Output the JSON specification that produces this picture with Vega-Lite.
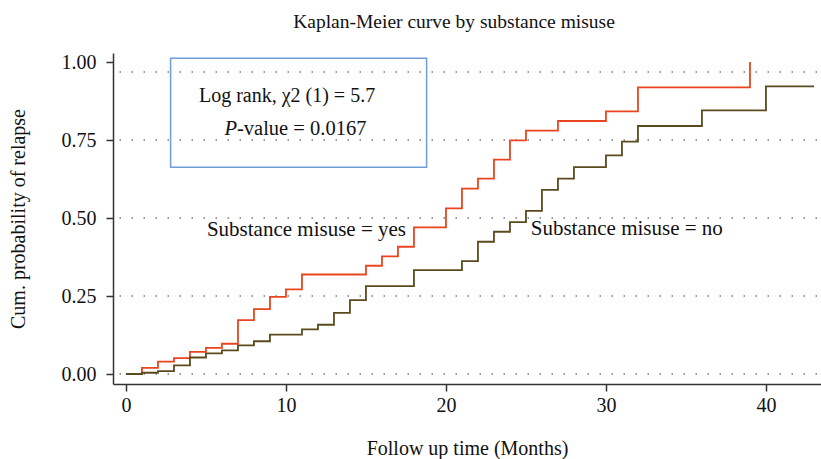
{
  "$schema": "https://vega.github.io/schema/vega-lite/v6.json",
  "width": 708,
  "height": 331,
  "autosize": {"type": "none"},
  "padding": {"left": 113, "top": 53, "right": 0, "bottom": 75},
  "background": "white",
  "data": {"values": [{"a": 1}]},
  "config": {
    "font": "Liberation Serif",
    "view": {"stroke": null},
    "axis": {
      "grid": false,
      "domainColor": "#333333",
      "domainWidth": 1.5,
      "tickColor": "#333333",
      "tickWidth": 1.5,
      "tickSize": 7,
      "labelPadding": 5,
      "labelFontSize": 20,
      "labelColor": "#111111",
      "labelFont": "Liberation Serif",
      "titleFont": "Liberation Serif",
      "titleFontSize": 20,
      "titleFontWeight": "normal",
      "titleColor": "#111111"
    }
  },
  "title": {
    "text": "Kaplan-Meier curve by substance misuse",
    "font": "Liberation Serif",
    "fontSize": 19.5,
    "fontWeight": "normal",
    "color": "#111111",
    "anchor": "middle",
    "frame": "group",
    "offset": 20,
    "dx": -13
  },
  "datasets": {
    "km": [
      {"group": "yes", "t": 0, "p": 0},
      {"group": "yes", "t": 1, "p": 0.02},
      {"group": "yes", "t": 2, "p": 0.04},
      {"group": "yes", "t": 3, "p": 0.051},
      {"group": "yes", "t": 4, "p": 0.071},
      {"group": "yes", "t": 5, "p": 0.084},
      {"group": "yes", "t": 6, "p": 0.097},
      {"group": "yes", "t": 7, "p": 0.173},
      {"group": "yes", "t": 8, "p": 0.208},
      {"group": "yes", "t": 9, "p": 0.247},
      {"group": "yes", "t": 10, "p": 0.271},
      {"group": "yes", "t": 11, "p": 0.319},
      {"group": "yes", "t": 15, "p": 0.347},
      {"group": "yes", "t": 16, "p": 0.377},
      {"group": "yes", "t": 17, "p": 0.408},
      {"group": "yes", "t": 18, "p": 0.47},
      {"group": "yes", "t": 20, "p": 0.531},
      {"group": "yes", "t": 21, "p": 0.594},
      {"group": "yes", "t": 22, "p": 0.626},
      {"group": "yes", "t": 23, "p": 0.687},
      {"group": "yes", "t": 24, "p": 0.749},
      {"group": "yes", "t": 25, "p": 0.78},
      {"group": "yes", "t": 27, "p": 0.811},
      {"group": "yes", "t": 30, "p": 0.842},
      {"group": "yes", "t": 32, "p": 0.919},
      {"group": "yes", "t": 39, "p": 1.0},
      {"group": "no", "t": 0, "p": 0},
      {"group": "no", "t": 1, "p": 0.004},
      {"group": "no", "t": 2, "p": 0.009},
      {"group": "no", "t": 3, "p": 0.028},
      {"group": "no", "t": 4, "p": 0.053},
      {"group": "no", "t": 5, "p": 0.066},
      {"group": "no", "t": 6, "p": 0.076},
      {"group": "no", "t": 7, "p": 0.092},
      {"group": "no", "t": 8, "p": 0.105},
      {"group": "no", "t": 9, "p": 0.126},
      {"group": "no", "t": 11, "p": 0.143},
      {"group": "no", "t": 12, "p": 0.158},
      {"group": "no", "t": 13, "p": 0.196},
      {"group": "no", "t": 14, "p": 0.237},
      {"group": "no", "t": 15, "p": 0.282},
      {"group": "no", "t": 18, "p": 0.333},
      {"group": "no", "t": 21, "p": 0.362},
      {"group": "no", "t": 22, "p": 0.424},
      {"group": "no", "t": 23, "p": 0.456},
      {"group": "no", "t": 24, "p": 0.487},
      {"group": "no", "t": 25, "p": 0.523},
      {"group": "no", "t": 26, "p": 0.59},
      {"group": "no", "t": 27, "p": 0.626},
      {"group": "no", "t": 28, "p": 0.663},
      {"group": "no", "t": 30, "p": 0.701},
      {"group": "no", "t": 31, "p": 0.745},
      {"group": "no", "t": 32, "p": 0.795},
      {"group": "no", "t": 36, "p": 0.845},
      {"group": "no", "t": 40, "p": 0.922},
      {"group": "no", "t": 43, "p": 0.922}
    ],
    "grid": [
      {"g": 0},
      {"g": 0.25},
      {"g": 0.5},
      {"g": 0.75},
      {"g": 0.968}
    ]
  },
  "layer": [
    {
      "data": {"name": "grid"},
      "mark": {"type": "rule", "color": "#777777", "strokeWidth": 1.5, "strokeDash": [1.5, 10.5], "strokeDashOffset": -4},
      "encoding": {
        "y": {
          "field": "g", "type": "quantitative",
          "scale": {"domain": [-0.032, 1.029], "nice": false, "zero": false},
          "axis": {"values": [0, 0.25, 0.5, 0.75, 1], "format": ".2f", "title": "Cum. probability of relapse", "titlePadding": 33, "labelPadding": 10}
        }
      }
    },
    {
      "mark": {"type": "rect", "fill": "white", "fillOpacity": 0, "stroke": "#6f9ed8", "strokeWidth": 1.5},
      "encoding": {
        "x": {"datum": 2.79, "type": "quantitative"},
        "x2": {"datum": 18.79},
        "y": {"datum": 1.012, "type": "quantitative"},
        "y2": {"datum": 0.663}
      }
    },
    {
      "data": {"name": "km"},
      "mark": {"type": "line", "interpolate": "step-after", "strokeWidth": 1.8},
      "encoding": {
        "x": {
          "field": "t", "type": "quantitative",
          "scale": {"domain": [-0.81, 43.44], "nice": false, "zero": false},
          "axis": {"values": [0, 10, 20, 30, 40], "title": "Follow up time (Months)", "titlePadding": 23, "labelPadding": 4}
        },
        "y": {
          "field": "p", "type": "quantitative",
          "scale": {"domain": [-0.032, 1.029], "nice": false, "zero": false},
          "axis": {"values": [0, 0.25, 0.5, 0.75, 1], "format": ".2f", "title": "Cum. probability of relapse", "titlePadding": 33, "labelPadding": 10}
        },
        "color": {"field": "group", "type": "nominal", "scale": {"domain": ["yes", "no"], "range": ["#e9461f", "#5c4a1f"]}, "legend": null},
        "detail": {"field": "group"}
      }
    },
    {
      "mark": {"type": "text", "text": "Substance misuse = yes", "fontSize": 21, "align": "center", "baseline": "alphabetic", "color": "#111111"},
      "encoding": {"x": {"datum": 11.28, "type": "quantitative"}, "y": {"datum": 0.442, "type": "quantitative"}}
    },
    {
      "mark": {"type": "text", "text": "Substance misuse = no", "fontSize": 21, "align": "center", "baseline": "alphabetic", "color": "#111111"},
      "encoding": {"x": {"datum": 31.3, "type": "quantitative"}, "y": {"datum": 0.446, "type": "quantitative"}}
    },
    {
      "mark": {"type": "text", "text": "Log rank, χ2 (1) = 5.7", "fontSize": 20, "align": "left", "baseline": "alphabetic", "color": "#111111"},
      "encoding": {"x": {"datum": 4.56, "type": "quantitative"}, "y": {"datum": 0.873, "type": "quantitative"}}
    },
    {
      "mark": {"type": "text", "text": "P", "fontSize": 20.5, "fontStyle": "italic", "align": "right", "baseline": "alphabetic", "color": "#111111"},
      "encoding": {"x": {"datum": 6.94, "type": "quantitative"}, "y": {"datum": 0.766, "type": "quantitative"}}
    },
    {
      "mark": {"type": "text", "text": "-value = 0.0167", "fontSize": 20.5, "align": "left", "baseline": "alphabetic", "color": "#111111"},
      "encoding": {"x": {"datum": 6.94, "type": "quantitative"}, "y": {"datum": 0.766, "type": "quantitative"}}
    }
  ]
}
